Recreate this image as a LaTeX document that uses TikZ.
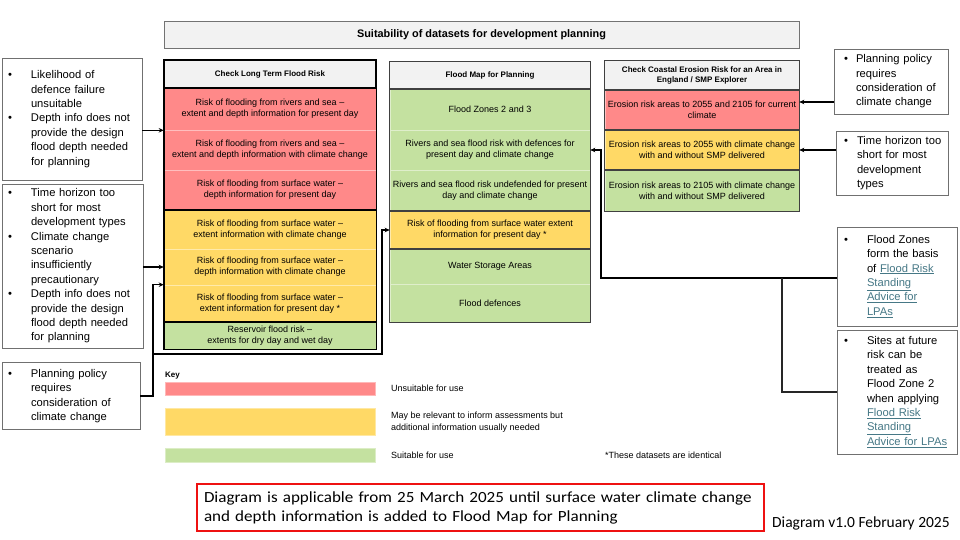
\documentclass[tikz,border=0pt]{standalone}
\usepackage{fontspec}
\usepackage{array}
\setmainfont{Liberation Sans}
\newfontfamily\botfont[FakeStretch=1.1]{Carlito}
\newfontfamily\verfont{Carlito}
\usetikzlibrary{arrows.meta,calc}
\definecolor{cred}{HTML}{FF8989}
\definecolor{cyel}{HTML}{FFD966}
\definecolor{cgrn}{HTML}{C4E1A0}
\definecolor{chead}{HTML}{F2F2F2}
\definecolor{cbox}{HTML}{707070}
\definecolor{linkc}{HTML}{467886}
\definecolor{cbred}{HTML}{EE1111}
\newcommand\cellfont{\fontsize{9}{11}\selectfont}
\newcommand\headfont{\fontsize{8}{10}\selectfont\bfseries}
\newcommand\sidefont{\fontsize{11.2}{14.4}\selectfont}
\newcommand\lnk[1]{\textcolor{linkc}{\underline{#1}}}
% #1 bullet offset, #2 text offset, #3 rows
\newcommand\sidetab[3]{\begin{tabular}{@{\hspace*{#1}}p{\dimexpr#2-#1\relax}@{}l@{}}#3\end{tabular}}
\newcommand\bl{\textbullet}
\tikzset{
  cell/.style={fill=#1, draw=#1!55!white, line width=0.6pt, inner sep=0pt, align=center, font=\cellfont},
  headcell/.style={fill=chead, draw=chead, inner sep=0pt, align=center, font=\headfont},
  grpthick/.style={draw=black, line width=1.6pt},
  grpthin/.style={draw=black!75, line width=0.9pt},
  sidebox/.style={draw=cbox, line width=0.9pt, fill=white, inner xsep=0pt, inner ysep=0pt, align=left, font=\sidefont},
  arr/.style={draw=black, line width=1.1pt, -{Stealth[length=5pt,width=4.5pt]}},
  conn/.style={draw=black!85, line width=1.1pt},
  swatch/.style={draw=#1!60!white, fill=#1, line width=0.6pt, inner sep=0pt},
  keytxt/.style={anchor=west, inner sep=0pt, align=left, font=\fontsize{9}{12}\selectfont}
}
\begin{document}
\begin{tikzpicture}[x=1pt,y=-1pt]
\useasboundingbox (0,0) rectangle (960,540);
% title
\node[draw=black!55, fill=chead, line width=0.7pt, minimum width=635pt, minimum height=27pt, inner sep=0pt, font=\fontsize{10.9}{13}\selectfont\bfseries] (title) at (481.5,34.5) {Suitability of datasets for development planning};

% column 1
\node[headcell, minimum width=212pt, minimum height=28pt] (c1h) at (270,74) {Check Long Term Flood Risk};
\node[cell=cred, minimum width=212pt, minimum height=42pt] (c1r1) at (270,109) {Risk of flooding from rivers and sea –\\extent and depth information for present day};
\node[cell=cred, minimum width=212pt, minimum height=40pt] (c1r2) at (270,150) {Risk of flooding from rivers and sea –\\extent and depth information with climate change};
\node[cell=cred, minimum width=212pt, minimum height=40pt] (c1r3) at (270,190) {Risk of flooding from surface water –\\depth information for present day};
\node[cell=cyel, minimum width=212pt, minimum height=39pt] (c1y1) at (270,229.5) {Risk of flooding from surface water –\\extent information with climate change};
\node[cell=cyel, minimum width=212pt, minimum height=36pt] (c1y2) at (270,267) {Risk of flooding from surface water –\\depth information with climate change};
\node[cell=cyel, minimum width=212pt, minimum height=37pt] (c1y3) at (270,303.5) {Risk of flooding from surface water –\\extent information for present day *};
\node[cell=cgrn, minimum width=212pt, minimum height=27pt] (c1g) at (270,335.5) {Reservoir flood risk –\\extents for dry day and wet day};
\draw[grpthick] (c1h.north west) rectangle (c1h.south east);
\draw[grpthick] (c1r1.north west) rectangle (c1r3.south east);
\draw[grpthick] (c1y1.north west) rectangle (c1y3.south east);
\draw[grpthick] (c1g.north west) rectangle (c1g.south east);

% column 2
\node[headcell, minimum width=200pt, minimum height=27pt] (c2h) at (490,75.5) {Flood Map for Planning};
\node[cell=cgrn, minimum width=200pt, minimum height=41pt] (c2a) at (490,109.5) {Flood Zones 2 and 3};
\node[cell=cgrn, minimum width=200pt, minimum height=40pt] (c2b) at (490,150) {Rivers and sea flood risk with defences for\\present day and climate change};
\node[cell=cgrn, minimum width=200pt, minimum height=41pt] (c2c) at (490,190.5) {Rivers and sea flood risk undefended for present\\day and climate change};
\node[cell=cyel, minimum width=200pt, minimum height=38pt] (c2y) at (490,230) {Risk of flooding from surface water extent\\information for present day *};
\node[cell=cgrn, minimum width=200pt, minimum height=35pt] (c2e) at (490,266.5) {Water Storage Areas};
\node[cell=cgrn, minimum width=200pt, minimum height=38pt] (c2f) at (490,303) {Flood defences};
\draw[grpthin] (c2h.north west) rectangle (c2h.south east);
\draw[grpthin] (c2a.north west) rectangle (c2c.south east);
\draw[grpthin] (c2y.north west) rectangle (c2y.south east);
\draw[grpthin] (c2e.north west) rectangle (c2f.south east);

% column 3
\node[headcell, minimum width=194pt, minimum height=29pt] (c3h) at (702,75.5) {Check Coastal Erosion Risk for an Area in\\England / SMP Explorer};
\node[cell=cred, minimum width=194pt, minimum height=40pt] (c3r) at (702,110) {Erosion risk areas to 2055 and 2105 for current\\climate};
\node[cell=cyel, minimum width=194pt, minimum height=40pt] (c3y) at (702,150) {Erosion risk areas to 2055 with climate change\\with and without SMP delivered};
\node[cell=cgrn, minimum width=194pt, minimum height=41pt] (c3g) at (702,190.5) {Erosion risk areas to 2105 with climate change\\with and without SMP delivered};
\draw[grpthin] (c3h.north west) rectangle (c3h.south east);
\draw[grpthin] (c3r.north west) rectangle (c3r.south east);
\draw[grpthin] (c3y.north west) rectangle (c3y.south east);
\draw[grpthin] (c3g.north west) rectangle (c3g.south east);

% left boxes
\node[sidebox, text width=140pt, minimum height=122pt] (L1) at (72,119) {\sidetab{6pt}{29pt}{%
\bl & Likelihood of\\ & defence failure\\ & unsuitable\\
\bl & Depth info does not\\ & provide the design\\ & flood depth needed\\ & for planning}};
\node[sidebox, text width=141pt, minimum height=164pt] (L2) at (72.5,266) {\sidetab{6pt}{29pt}{%
\bl & Time horizon too\\ & short for most\\ & development types\\
\bl & Climate change\\ & scenario\\ & insufficiently\\ & precautionary\\
\bl & Depth info does not\\ & provide the design\\ & flood depth needed\\ & for planning}};
\node[sidebox, text width=138pt, minimum height=67pt] (L3) at (71,396) {\sidetab{6pt}{29pt}{%
\bl & Planning policy\\ & requires\\ & consideration of\\ & climate change}};

% right boxes
\node[sidebox, text width=114pt, minimum height=65pt] (R1) at (891,81.5) {\sidetab{10pt}{22pt}{%
\bl & Planning policy\\ & requires\\ & consideration of\\ & climate change}};
\node[sidebox, text width=112pt, minimum height=64pt] (R2) at (892,163) {\sidetab{8pt}{21pt}{%
\bl & Time horizon too\\ & short for most\\ & development\\ & types}};
\node[sidebox, text width=120pt, minimum height=99pt] (R3) at (897,276.5) {\sidetab{7pt}{30pt}{%
\bl & Flood Zones\\ & form the basis\\ & of \lnk{Flood Risk}\\ & \lnk{Standing}\\ & \lnk{Advice for}\\ & \lnk{LPAs}}};
\node[sidebox, text width=120pt, minimum height=124pt] (R4) at (897,392) {\sidetab{7pt}{30pt}{%
\bl & Sites at future\\ & risk can be\\ & treated as\\ & Flood Zone 2\\ & when applying\\ & \lnk{Flood Risk}\\ & \lnk{Standing}\\ & \lnk{Advice for LPAs}}};

% connectors
\draw[arr] (L1.east |- c1r1.south west) -- (c1r1.south west);
\draw[arr] (L2.east |- c1y2.west) -- (c1y2.west);
\coordinate (j1) at (153,354);
\coordinate (j2) at (382,354);
\draw[arr] (L3.east) -| (j1) |- (c1y3.north west);
\draw[arr] (j1) -- (j2) |- (c2y.west);
\coordinate (a1) at ([yshift=8pt]c3r.east);
\draw[arr] (a1 -| R1.west) -- (a1);
\draw[arr] (R2.west |- c3y.east) -- (c3y.east);
\coordinate (j3) at (601,278);
\coordinate (j4) at (782,278);
\draw[arr] (R3.west |- j3) -- (j3) |- (c2b.east);
\draw[conn] (R4.west) -| (j4);

% key
\node[anchor=west, inner sep=0pt, font=\fontsize{8}{10}\selectfont\bfseries] (keyl) at (165,376) {Key};
\node[swatch=cred, minimum width=210pt, minimum height=13pt] (kr) at (270,388.5) {};
\node[swatch=cyel, minimum width=210pt, minimum height=27pt] (ky) at (270,421.5) {};
\node[swatch=cgrn, minimum width=210pt, minimum height=14pt] (kg) at (270,455) {};
\node[keytxt] (krt) at (391,388) {Unsuitable for use};
\node[keytxt] (kyt) at (391,422) {May be relevant to inform assessments but\\additional information usually needed};
\node[keytxt] (kgt) at (391,455) {Suitable for use};
\node[keytxt] (note) at (605,455) {*These datasets are identical};

% bottom
\node[draw=cbred, line width=1.5pt, minimum width=567pt, minimum height=47pt, text width=553pt, inner xsep=7pt, inner ysep=0pt, align=left, font=\botfont\fontsize{15.5}{19}\selectfont] (bot) at (480.5,507.5) {Diagram is applicable from 25 March 2025 until surface water climate change\\and depth information is added to Flood Map for Planning};
\node[anchor=west, inner sep=0pt, font=\verfont\fontsize{15.5}{19}\selectfont] (ver) at (772,523) {Diagram v1.0 February 2025};
\end{tikzpicture}
\end{document}
